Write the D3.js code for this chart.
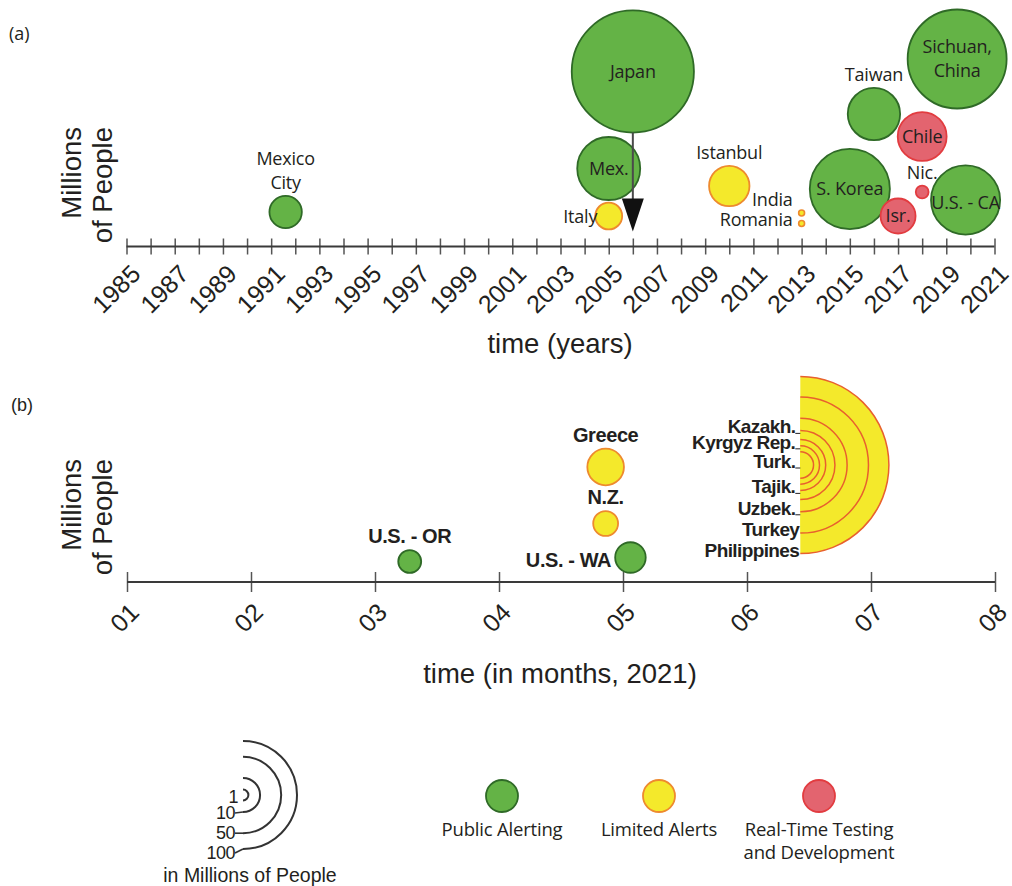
<!DOCTYPE html>
<html>
<head>
<meta charset="utf-8">
<script src="https://cdn.jsdelivr.net/npm/d3@7"></script>
<style>
  body { margin: 0; background: #fff; }
  svg { display: block; }
</style>
</head>
<body>
<svg id="chart" width="1012" height="886"></svg>
<script>
// ---------- data ----------
// (a) earthquake early-warning systems by start year
const sitesA  = ["Mexico\nCity", "Japan", "Mex.", "Italy", "Istanbul", "India", "Romania",
                 "S. Korea", "Taiwan", "Isr.", "Chile", "Nic.", "Sichuan,\nChina", "U.S. - CA"];
const yearsA  = [1991.6, 2006.0, 2005.0, 2005.0, 2010.0, 2013.0, 2013.0,
                 2015.0, 2016.0, 2017.0, 2018.0, 2018.0, 2019.45, 2019.8];
const peopleA = [9, 128, 34, 6.2, 14, 0.3, 0.3, 55, 23.5, 10.5, 20.5, 1.4, 84, 41];
const statusA = ["public", "public", "public", "limited", "limited", "limited", "limited",
                 "public", "public", "testing", "testing", "testing", "public", "public"];

// (b) systems launched in 2021, by month
const sitesB  = ["U.S. - OR", "U.S. - WA", "N.Z.", "Greece"];
const monthsB = [3.28, 5.06, 4.86, 4.86];
const peopleB = [4.5, 8, 5.3, 11.5];
const statusB = ["public", "public", "limited", "limited"];

// (b) nested regional rollout: each ring adds one country's population
const ringSites  = ["Turk.", "Kyrgyz Rep.", "Tajik.", "Kazakh.", "Uzbek.", "Turkey", "Philippines"];
const ringPeople = [6, 6.6, 9.5, 19, 34, 84, 110];
const ringMonth  = 6.43;
const ringStatus = "limited";

// axis ticks
const yearTicks   = d3.range(1985, 2022);
const yearLabels  = d3.range(1985, 2022, 2);
const monthTicks  = d3.range(1, 9);
const legendSizes = [1, 10, 50, 100];
const legendKinds = ["public", "limited", "testing"];
const legendNames = [["Public Alerting"], ["Limited Alerts"], ["Real-Time Testing", "and Development"]];

// ---------- layout (vertical stacking of bubbles, px above the axis) ----------
const liftA  = [34.5, 175, 78, 30.5, 60.5, 33.5, 23, 57.5, 132.5, 30.5, 110, 54.5, 187.5, 46.5];
const spotA  = ["above", "in", "in", "left", "above", "left", "left",
                "in", "above", "in", "in", "above", "in", "in"];
const shiftA = [0, 0, 0, 7, 0, -7, 2, 0, 0, 0, 0, 0, 0, 3];
const liftB  = [20.5, 24.5, 58.5, 115];
const spotB  = ["above", "left", "above", "above"];
const ringLift = 117;
const ringSpot = ["center", "top", "bottom", "top", "bottom", "bottom", "bottom"];
const legendLabelDrop = [2, 1, 0, 4];

// ---------- styles ----------
const fills   = { public: "#64b346", limited: "#f4e92b", testing: "#e3646f" };
const strokes = { public: "#2f6a27", limited: "#ee8a2e", testing: "#e23c40" };
const ink = "#231f20";
const humanist = "'Open Sans', 'Noto Sans', sans-serif";
const grotesk  = "'Liberation Sans', Arial, sans-serif";

const svg = d3.select("#chart");
const rScale = d3.scaleSqrt().domain([0, 100]).range([0, 54]);

// ---------- helpers ----------
function drawAxis(g, x, y0, ticks, tickHalf) {
  g.append("g")
    .attr("transform", `translate(0,${y0 - tickHalf})`)
    .call(d3.axisBottom(x).tickValues(ticks).tickSize(tickHalf * 2).tickFormat(""))
    .call(a => a.select(".domain").remove())
    .call(a => a.selectAll(".tick line").attr("stroke", "#555").attr("stroke-width", 1.5));
  g.append("line")
    .attr("x1", x.range()[0]).attr("x2", x.range()[1])
    .attr("y1", y0).attr("y2", y0)
    .attr("stroke", "#3a3a3a").attr("stroke-width", 2);
}

function tickText(g, x, y0, values, fmt, dx, dy) {
  g.append("g")
    .attr("transform", `translate(0,${y0})`)
    .call(d3.axisBottom(x).tickValues(values).tickSize(0).tickFormat(fmt))
    .call(a => a.select(".domain").remove())
    .call(a => a.selectAll(".tick text")
      .attr("x", null).attr("y", null).attr("dy", null)
      .attr("text-anchor", "end")
      .attr("transform", `translate(${dx},${dy}) rotate(-45)`)
      .attr("font-family", grotesk).attr("font-size", 25).attr("fill", ink));
}

function yTitle(g, yEnd) {
  const t = g.append("text")
    .attr("transform", `translate(81,${yEnd}) rotate(-90)`)
    .attr("text-anchor", "end")
    .attr("font-family", grotesk).attr("font-size", 27.5).attr("fill", ink);
  t.append("tspan").attr("x", 0).attr("y", 0).text("Millions");
  t.append("tspan").attr("x", 0).attr("y", 31).text("of People");
}

function multiline(sel, text, x, yBase, lineH) {
  const lines = text.split("\n");
  lines.forEach((s, i) => {
    sel.append("tspan").attr("x", x).attr("y", yBase + (i - (lines.length - 1)) * lineH).text(s);
  });
}

// ================= panel (a) =================
const axisYA = 246.5;
const xA = d3.scaleLinear().domain([1985, 2021]).range([126.5, 994.5]);
const yA = d3.scaleLinear().domain([0, 240]).range([axisYA, axisYA - 240]);
const gA = svg.append("g");

gA.append("text").attr("x", 9).attr("y", 40)
  .attr("font-family", humanist).attr("font-size", 18).attr("fill", ink).text("(a)");

yTitle(gA, 127);
drawAxis(gA, xA, axisYA, yearTicks, 8);
tickText(gA, xA, axisYA, yearLabels, d3.format("d"), 15, 29);

gA.append("text")
  .attr("x", 560).attr("y", 353).attr("text-anchor", "middle")
  .attr("font-family", grotesk).attr("font-size", 27.5).attr("fill", ink)
  .text("time (years)");

const bubA = sitesA.map((name, i) => ({
  name, x: xA(yearsA[i]), y: yA(liftA[i]), r: rScale(peopleA[i]),
  kind: statusA[i], spot: spotA[i], shift: shiftA[i]
}));

gA.selectAll("circle.site").data(bubA).join("circle")
  .attr("class", "site")
  .attr("cx", d => d.x).attr("cy", d => d.y).attr("r", d => d.r)
  .attr("fill", d => fills[d.kind])
  .attr("stroke", d => strokes[d.kind])
  .attr("stroke-width", d => d.r < 5 ? 1.6 : 1.8);

// Japan: arrow from the bubble down to its start year on the axis
const jp = bubA[sitesA.indexOf("Japan")];
const tipY = axisYA - 15, headTop = tipY - 33;
gA.append("line")
  .attr("x1", jp.x).attr("x2", jp.x)
  .attr("y1", jp.y + jp.r).attr("y2", headTop + 2)
  .attr("stroke", "#4a4a4a").attr("stroke-width", 2);
gA.append("path")
  .attr("d", `M${jp.x - 11},${headTop} L${jp.x + 11},${headTop} L${jp.x},${tipY} Z`)
  .attr("fill", "#111");

// labels
bubA.forEach(d => {
  const t = gA.append("text")
    .attr("font-family", humanist).attr("font-size", 18).attr("fill", ink)
    .attr("letter-spacing", -0.2);
  if (d.spot === "in") {
    const n = d.name.split("\n").length;
    t.attr("text-anchor", "middle");
    multiline(t, d.name, d.x, d.y + 6 + d.shift + (n - 1) * 12, 24);
  } else if (d.spot === "above") {
    t.attr("text-anchor", "middle");
    multiline(t, d.name, d.x, d.y - d.r - 7, 24);
  } else {
    t.attr("text-anchor", "end");
    const xEnd = d.r < 5 ? d.x - 9 : d.x - d.r + 2;
    multiline(t, d.name, xEnd, d.y + d.shift, 24);
  }
});

// ================= panel (b) =================
const axisYB = 582;
const xB = d3.scaleLinear().domain([1, 8]).range([127, 995]);
const yB = d3.scaleLinear().domain([0, 240]).range([axisYB, axisYB - 240]);
const gB = svg.append("g");

gB.append("text").attr("x", 11).attr("y", 411)
  .attr("font-family", grotesk).attr("font-size", 18).attr("fill", ink).text("(b)");

yTitle(gB, 459);
drawAxis(gB, xB, axisYB, monthTicks, 10);
tickText(gB, xB, axisYB, monthTicks, d3.format("02d"), 13, 32);

gB.append("text")
  .attr("x", 560).attr("y", 683).attr("text-anchor", "middle")
  .attr("font-family", grotesk).attr("font-size", 27.5).attr("fill", ink)
  .text("time (in months, 2021)");

// nested half-rings, outermost first
const rcx = xB(ringMonth), rcy = yB(ringLift);
const cum = Array.from(d3.cumsum(ringPeople));
const rings = ringSites.map((name, i) => ({ name, R: rScale(cum[i]), spot: ringSpot[i] }));
const half = d3.arc().innerRadius(0).startAngle(0).endAngle(Math.PI);
rings.slice().reverse().forEach(d => {
  gB.append("path")
    .attr("transform", `translate(${rcx},${rcy})`)
    .attr("d", half.outerRadius(d.R)())
    .attr("fill", fills[ringStatus]);
  const p = d3.path();
  p.moveTo(rcx, rcy - d.R);
  p.arc(rcx, rcy, d.R, -Math.PI / 2, Math.PI / 2);
  gB.append("path").attr("d", p.toString())
    .attr("fill", "none").attr("stroke", "#e8602e").attr("stroke-width", 1.5);
});

rings.forEach(d => {
  const edge = d.spot === "top" ? rcy - d.R : d.spot === "bottom" ? rcy + d.R : rcy;
  const base = edge + 3;
  const dotted = d.name.endsWith(".");
  const xEnd = dotted ? rcx - 5 : rcx - 1;
  gB.append("text")
    .attr("x", xEnd).attr("y", base).attr("text-anchor", "end")
    .attr("font-family", grotesk).attr("font-weight", "bold").attr("font-size", 19)
    .attr("letter-spacing", -0.6).attr("fill", ink)
    .text(d.name);
  if (dotted) {
    gB.append("line").attr("x1", xEnd).attr("x2", rcx)
      .attr("y1", base).attr("y2", base)
      .attr("stroke", ink).attr("stroke-width", 1);
  }
});

// single-site bubbles
const bubB = sitesB.map((name, i) => ({
  name, x: xB(monthsB[i]), y: yB(liftB[i]), r: rScale(peopleB[i]),
  kind: statusB[i], spot: spotB[i]
}));
gB.selectAll("circle.site").data(bubB).join("circle")
  .attr("class", "site")
  .attr("cx", d => d.x).attr("cy", d => d.y).attr("r", d => d.r)
  .attr("fill", d => fills[d.kind])
  .attr("stroke", d => strokes[d.kind]).attr("stroke-width", 1.8);

bubB.forEach(d => {
  const t = gB.append("text")
    .attr("font-family", grotesk).attr("font-weight", "bold").attr("font-size", 20)
    .attr("letter-spacing", -0.4).attr("fill", ink).text(d.name);
  if (d.spot === "above") {
    t.attr("x", d.x).attr("y", d.y - d.r - 7).attr("text-anchor", "middle");
  } else {
    t.attr("x", d.x - d.r - 4).attr("y", d.y + 9).attr("text-anchor", "end");
  }
});

// ================= legend =================
const gL = svg.append("g");
const lcx = 243, lcy = 795;
legendSizes.forEach((v, i) => {
  const R = rScale(v);
  const p = d3.path();
  p.moveTo(lcx, lcy - R);
  p.arc(lcx, lcy, R, -Math.PI / 2, Math.PI / 2);
  gL.append("path").attr("d", p.toString())
    .attr("fill", "none").attr("stroke", "#333").attr("stroke-width", 2);
  const end = v === 1 ? lcy : lcy + R;
  const ty = end + legendLabelDrop[i];
  gL.append("text")
    .attr("x", v === 1 ? lcx - 5 : lcx - 8).attr("y", ty + 6)
    .attr("text-anchor", "end")
    .attr("font-family", grotesk).attr("font-size", 18).attr("letter-spacing", -0.5)
    .attr("fill", ink).text(v);
  if (v !== 1) {
    gL.append("line").attr("x1", lcx - 8).attr("x2", lcx)
      .attr("y1", ty).attr("y2", end)
      .attr("stroke", "#333").attr("stroke-width", 1.6);
  }
});
gL.append("text")
  .attr("x", 250).attr("y", 882).attr("text-anchor", "middle")
  .attr("font-family", grotesk).attr("font-size", 19.5).attr("fill", ink)
  .text("in Millions of People");

const legX = d3.scalePoint().domain(legendKinds).range([502, 819]);
legendKinds.forEach((k, i) => {
  const cx = k === "limited" ? 659 : legX(k);
  gL.append("circle").attr("cx", cx).attr("cy", 796).attr("r", 16)
    .attr("fill", fills[k]).attr("stroke", strokes[k]).attr("stroke-width", 1.8);
  legendNames[i].forEach((s, j) => {
    gL.append("text")
      .attr("x", cx).attr("y", 836 + j * 23).attr("text-anchor", "middle")
      .attr("font-family", humanist).attr("font-size", 18.5).attr("letter-spacing", -0.2)
      .attr("fill", ink).text(s);
  });
});
</script>
</body>
</html>
